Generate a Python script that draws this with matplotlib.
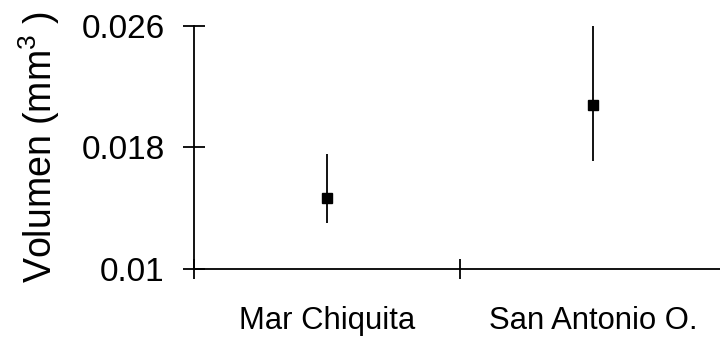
import numpy as np
import matplotlib
matplotlib.use('Agg')
import matplotlib.pyplot as plt

# data
sites = ['Mar Chiquita', 'San Antonio O.']
vol_mean = [0.0147, 0.0208]
vol_low = [0.0130, 0.0171]
vol_high = [0.01755, 0.0260]
yticks = [0.01, 0.018, 0.026]

plt.rcParams['font.family'] = 'Liberation Sans'
plt.rcParams['mathtext.fontset'] = 'custom'
plt.rcParams['mathtext.rm'] = 'Liberation Sans'
plt.rcParams['mathtext.it'] = 'Liberation Sans'

fig = plt.figure(figsize=(7.2, 3.45), dpi=100)
ax = fig.add_axes([0.2694, 0.2203, 0.7389, 0.7052])

xpos = np.arange(len(sites)) + 0.5
yerr = [np.array(vol_mean) - np.array(vol_low), np.array(vol_high) - np.array(vol_mean)]
ax.errorbar(xpos, vol_mean, yerr=yerr, fmt='s', color='black', ms=6.5,
            elinewidth=1.3, capsize=0, clip_on=False)

ax.set_xlim(0, 2)
ax.set_ylim(0.01, 0.026)
for s in ['top', 'right']:
    ax.spines[s].set_visible(False)
for s in ['left', 'bottom']:
    ax.spines[s].set_linewidth(1.3)

ax.set_yticks(yticks)
ax.set_yticklabels(['0.01', '0.018', '0.026'])
ax.tick_params(axis='y', direction='inout', length=16, width=1.3, labelsize=24, pad=13)

ax.set_xticks([0, 1, 2])
ax.set_xticklabels([])
ax.tick_params(axis='x', which='major', direction='inout', length=14, width=1.3)
ax.set_xticks(xpos, minor=True)
ax.set_xticklabels(sites, minor=True)
ax.tick_params(axis='x', which='minor', length=0, labelsize=22.3, pad=27)

ax.set_ylabel('Volumen (mm$^{3}$ )', fontsize=27, labelpad=14)

fig.savefig('out.png', dpi=100)
